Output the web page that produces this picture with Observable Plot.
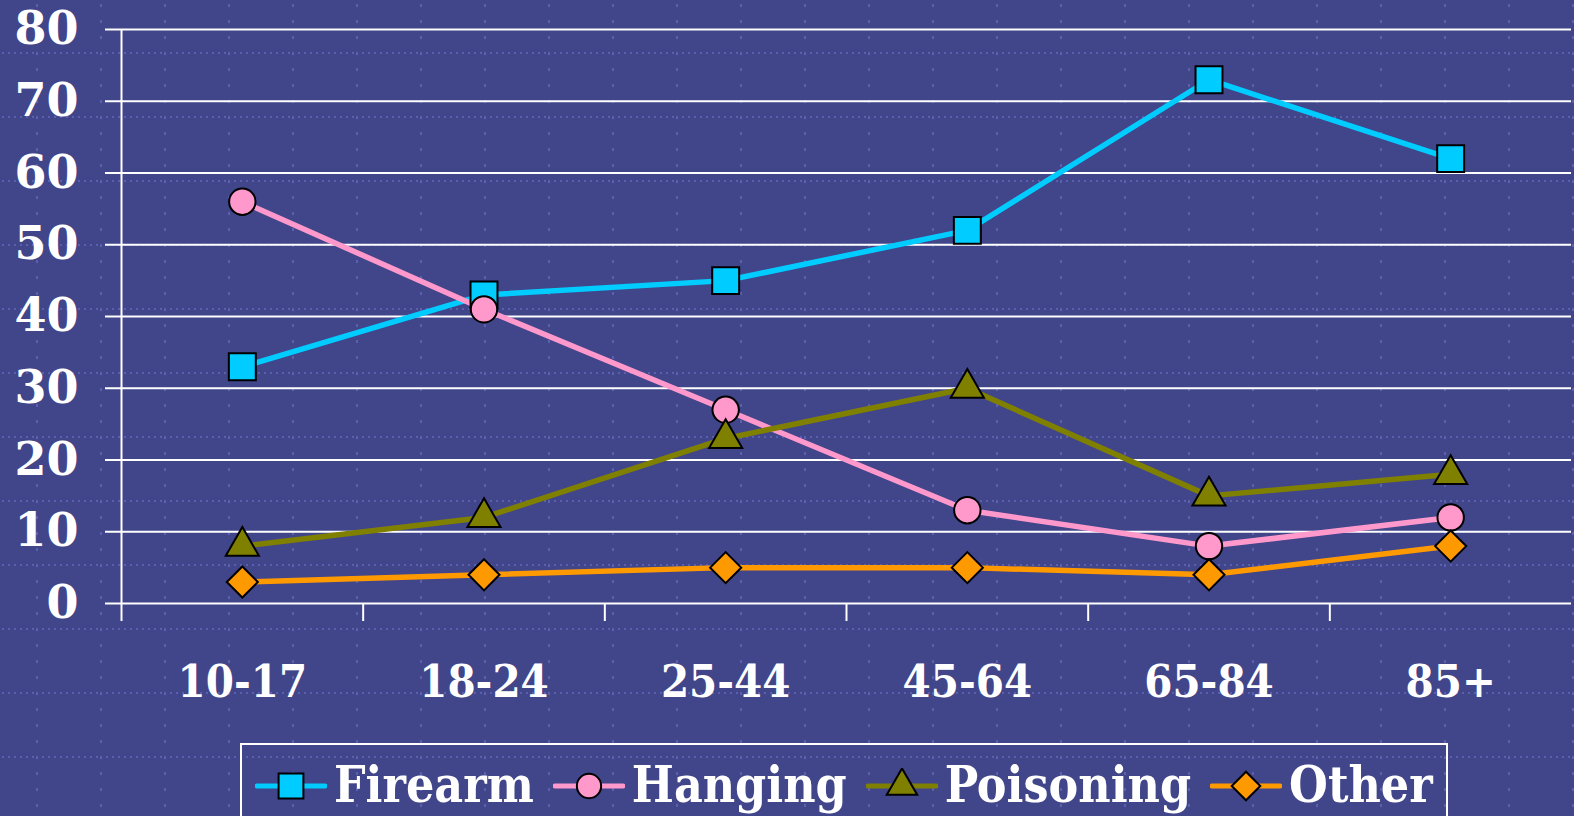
<!DOCTYPE html>
<html>
<head>
<meta charset="utf-8">
<script src="https://cdn.jsdelivr.net/npm/d3@7"></script>
<script src="https://cdn.jsdelivr.net/npm/@observablehq/plot@0.6"></script>
<style>
  html, body { margin: 0; padding: 0; }
  body {
    width: 1574px; height: 816px; overflow: hidden;
    background-color: #41458a;
    background-image: url("data:image/svg+xml;utf8,<svg xmlns='http://www.w3.org/2000/svg' width='64' height='64'><path d='M0 1H64' stroke='%235a5fae' stroke-width='2' stroke-dasharray='2 4'/><path d='M1 0V64' stroke='%235a5fae' stroke-width='2' stroke-dasharray='3 13'/></svg>");
    background-position: 36px 52px;
    font-family: "DejaVu Serif Condensed", "DejaVu Serif", serif;
    font-weight: bold;
    color: white;
  }
  #chart svg { display: block; }
  #legend {
    position: absolute; left: 240px; top: 743px; width: 1208px; height: 90px;
    border: 2px solid white; box-sizing: border-box;
    display: flex; align-items: center; padding-left: 13px;
  }
  .item { display: flex; align-items: center; margin-right: 19px; height: 74px; margin-top: -4px; }
  .item svg { display: block; margin-right: 7px; }
  .item span { font-size: 49.5px; line-height: 1; font-stretch: condensed; }
</style>
</head>
<body>
<div id="chart"></div>
<div id="legend"></div>
<script>
const categories = ["10-17", "18-24", "25-44", "45-64", "65-84", "85+"];
const firearm   = [33, 43, 45, 52, 73, 62];
const hanging   = [56, 41, 27, 13, 8, 12];
const poisoning = [8, 12, 23, 30, 15, 18];
const other     = [3, 4, 5, 5, 4, 8];
const seriesNames  = ["Firearm", "Hanging", "Poisoning", "Other"];
const seriesColors = ["#00CCFF", "#FF99CC", "#808000", "#FF9900"];
const seriesSymbols = ["square", "circle", "triangle", "diamond2"];
const symbolSizes = [15.2, 13.2, 12.3, 14];
const yTicks = [0, 10, 20, 30, 40, 50, 60, 70, 80];

const seriesValues = [firearm, hanging, poisoning, other];
const rows = seriesNames.flatMap((s, k) =>
  seriesValues[k].map((v, i) => ({series: s, pos: i + 0.5, cat: categories[i], value: v}))
);

const fontFam = '"DejaVu Serif", serif';

const dotMarks = seriesNames.map((s, k) =>
  Plot.dot(rows.filter(d => d.series === s), {
    x: "pos", y: "value", symbol: () => seriesSymbols[k], r: symbolSizes[k],
    fill: seriesColors[k], stroke: "black", strokeWidth: 2
  })
);

const chart = Plot.plot({
  width: 1574, height: 740,
  marginLeft: 121, marginRight: 3, marginTop: 29, marginBottom: 137,
  style: {background: "transparent", color: "white", fontFamily: fontFam, fontWeight: "bold", overflow: "visible"},
  x: {domain: [0, 6], axis: null, label: null},
  y: {domain: [0, 80], axis: null, label: null},
  symbol: {domain: seriesSymbols, range: seriesSymbols},
  color: {domain: seriesNames, range: seriesColors},
  marks: [
    Plot.ruleY(yTicks, {stroke: "white", strokeWidth: 2}),
    Plot.axisY({ticks: yTicks, tickSize: 16, tickPadding: 27, strokeWidth: 2, fontSize: 46,
      fontWeight: "bold", tickFormat: d => String(d), label: null}),
    Plot.ruleX([0], {stroke: "white", strokeWidth: 2}),
    Plot.axisX({ticks: [0, 1, 2, 3, 4, 5], tickSize: 18, strokeWidth: 2, tickFormat: () => "", label: null}),
    Plot.axisX({ticks: categories.map((_, i) => i + 0.5), tickSize: 0, tickPadding: 62, fontSize: 45,
      fontWeight: "bold", tickFormat: d => categories[Math.round(d - 0.5)], label: null,
      fontFamily: '"DejaVu Serif Condensed", "DejaVu Serif", serif'}),
    Plot.line(rows, {x: "pos", y: "value", z: "series", stroke: "series", strokeWidth: 5.5}),
    ...dotMarks
  ]
});
document.getElementById("chart").appendChild(chart);

// legend
const legend = document.getElementById("legend");
seriesNames.forEach((s, k) => {
  const item = document.createElement("div");
  item.className = "item";
  const sw = d3.create("svg").attr("width", 72).attr("height", 36);
  sw.append("line").attr("x1", 2).attr("x2", 70).attr("y1", 18).attr("y2", 18)
    .attr("stroke", seriesColors[k]).attr("stroke-width", 5).attr("stroke-linecap", "round");
  const sym = {square: d3.symbolSquare, circle: d3.symbolCircle, triangle: d3.symbolTriangle, diamond2: d3.symbolDiamond2}[seriesSymbols[k]];
  const rr = symbolSizes[k] * 0.92;
  sw.append("path").attr("transform", "translate(36,18)")
    .attr("d", d3.symbol(sym, Math.PI * rr * rr)())
    .attr("fill", seriesColors[k]).attr("stroke", "black").attr("stroke-width", 2);
  item.appendChild(sw.node());
  const t = document.createElement("span");
  t.textContent = s;
  item.appendChild(t);
  legend.appendChild(item);
});
</script>
</body>
</html>
